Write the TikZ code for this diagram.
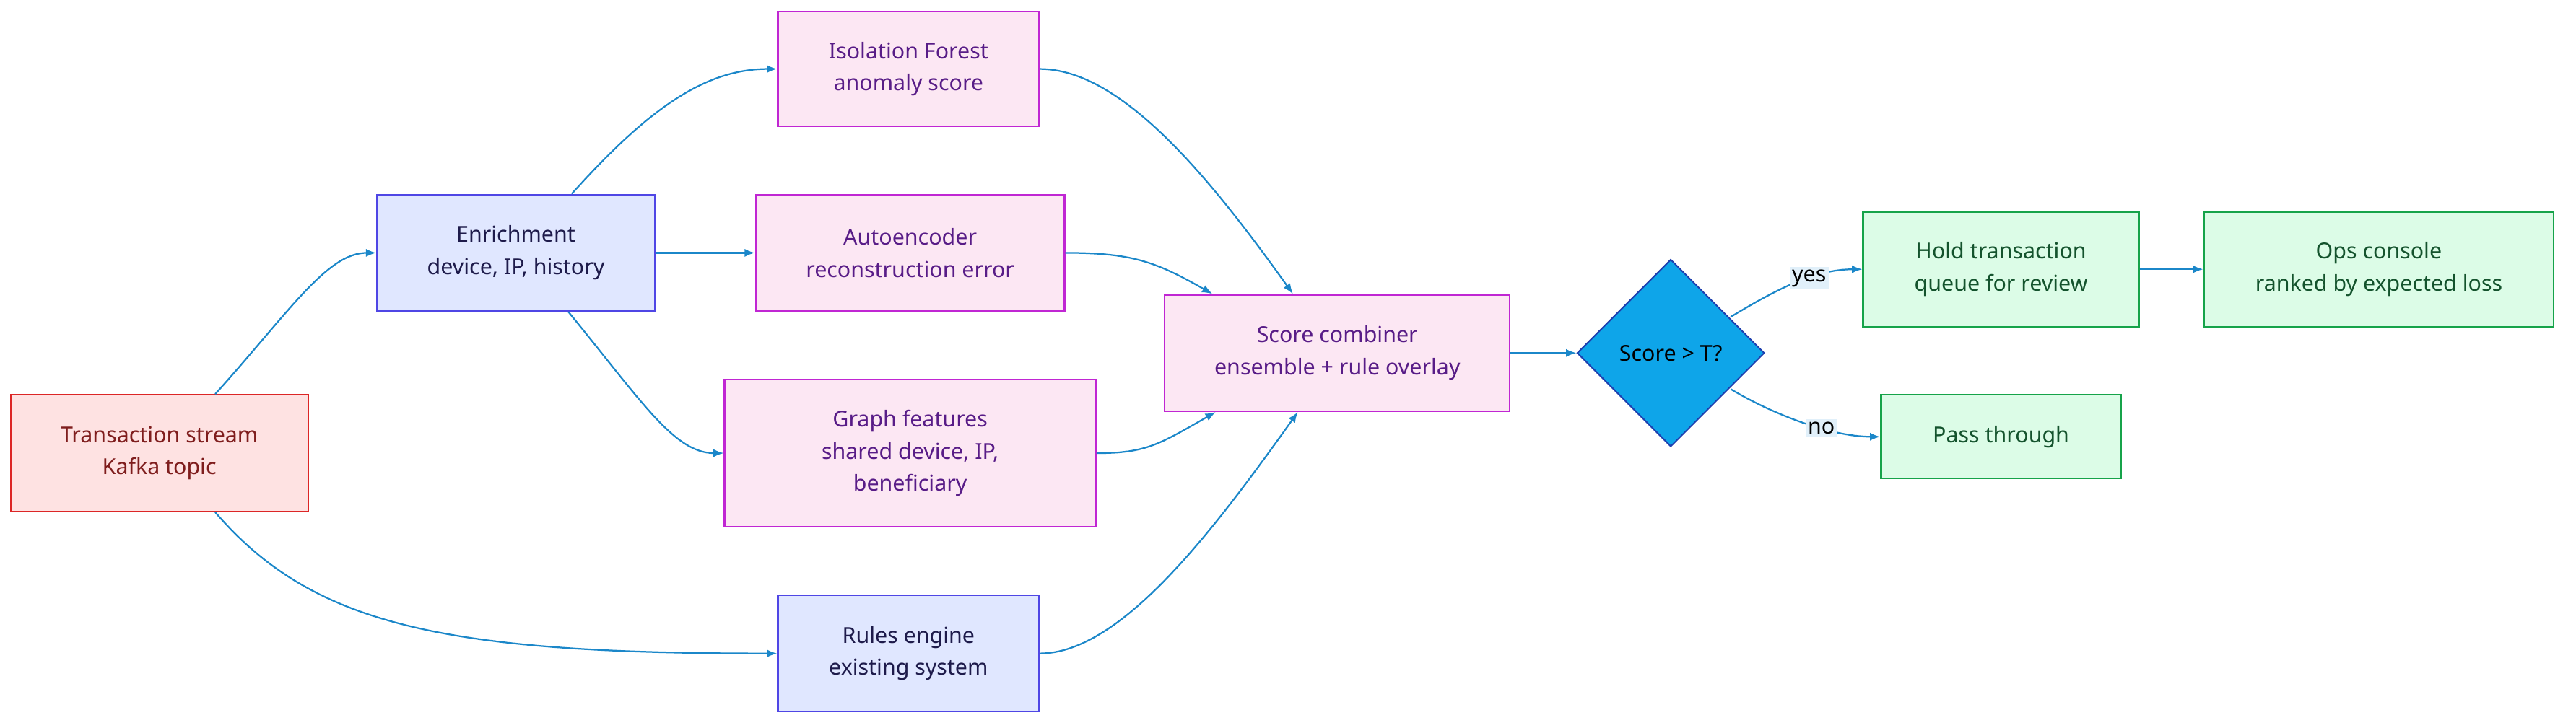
\documentclass[tikz,border=0pt]{standalone}
\usepackage{fontspec}
\setmainfont{Noto Sans}
\usetikzlibrary{shapes.geometric,arrows.meta}
\definecolor{edge}{HTML}{1B87C9}
\definecolor{pinkf}{HTML}{FCE7F3}\definecolor{pinkd}{HTML}{C026D3}\definecolor{pinkt}{HTML}{581C87}
\definecolor{lavf}{HTML}{E0E7FF}\definecolor{lavd}{HTML}{4F46E5}\definecolor{lavt}{HTML}{1E1B4B}
\definecolor{redf}{HTML}{FEE2E2}\definecolor{redd}{HTML}{DC2626}\definecolor{redt}{HTML}{7F1D1D}
\definecolor{grnf}{HTML}{DCFCE7}\definecolor{grnd}{HTML}{16A34A}\definecolor{grnt}{HTML}{14532D}
\definecolor{dia}{HTML}{0EA5E9}\definecolor{diad}{HTML}{1E40AF}
\definecolor{lblf}{HTML}{E1F0FA}
\tikzset{
 base/.style={draw,line width=1.3pt,align=center,inner sep=0pt,font=\fontsize{19}{28}\selectfont},
 pinkbox/.style={base,fill=pinkf,draw=pinkd,text=pinkt},
 lavbox/.style={base,fill=lavf,draw=lavd,text=lavt},
 redbox/.style={base,fill=redf,draw=redd,text=redt},
 grnbox/.style={base,fill=grnf,draw=grnd,text=grnt},
 conn/.style={draw=edge,line width=1.4pt,-{Latex[length=9pt,width=7pt]}},
 lbl/.style={fill=lblf,inner sep=2pt,font=\fontsize{19}{24}\selectfont,text=black}
}
\begin{document}
\begin{tikzpicture}[x=0.05cm,y=-0.05cm]
\useasboundingbox (0,0) rectangle (1568,443);
\node[redbox,minimum width=9.05cm,minimum height=3.55cm] (tx) at (97,276) {Transaction stream\\Kafka topic};
\node[lavbox,minimum width=8.45cm,minimum height=3.55cm] (en) at (314,154) {Enrichment\\device, IP, history};
\node[pinkbox,minimum width=7.95cm,minimum height=3.5cm] (iso) at (553,42) {Isolation Forest\\anomaly score};
\node[pinkbox,minimum width=9.4cm,minimum height=3.55cm] (ae) at (554,154) {Autoencoder\\reconstruction error};
\node[pinkbox,minimum width=11.3cm,minimum height=4.5cm] (gf) at (554,276) {Graph features\\shared device, IP,\\beneficiary};
\node[lavbox,minimum width=7.95cm,minimum height=3.55cm] (ru) at (553,398) {Rules engine\\existing system};
\node[pinkbox,minimum width=10.5cm,minimum height=3.55cm] (sc) at (814,215) {Score combiner\\ensemble + rule overlay};
\node[base,shape=diamond,fill=dia,draw=diad,text=black,minimum width=5.7cm,minimum height=5.7cm] (d) at (1017,215) {Score > T?};
\node[grnbox,minimum width=8.4cm,minimum height=3.5cm] (ho) at (1218,164) {Hold transaction\\queue for review};
\node[grnbox,minimum width=10.65cm,minimum height=3.5cm] (op) at (1448,164) {Ops console\\ranked by expected loss};
\node[grnbox,minimum width=7.3cm,minimum height=2.55cm] (pa) at (1218,266) {Pass through};

\draw[conn] ([xshift=1.7cm]tx.north) .. controls +(45,-50) and +(-30,0) .. (en.west);
\draw[conn] ([xshift=1.7cm]tx.south) .. controls +(60,70) and +(-200,0) .. (ru.west);
\draw[conn] ([xshift=1.7cm]en.north) .. controls +(45,-50) and +(-45,0) .. (iso.west);
\draw[conn] (en.east) -- (ae.west);
\draw[conn] ([xshift=1.6cm]en.south) .. controls +(45,55) and +(-30,0) .. (gf.west);
\draw[conn] (iso.east) .. controls +(50,0) and +(-50,-70) .. ([xshift=-1.35cm]sc.north);
\draw[conn] (ae.east) .. controls +(40,0) and +(-35,-20) .. ([xshift=-3.8cm]sc.north);
\draw[conn] (gf.east) .. controls +(30,0) and +(-35,20) .. ([xshift=-3.7cm]sc.south);
\draw[conn] (ru.east) .. controls +(50,0) and +(-50,70) .. ([xshift=-1.2cm]sc.south);
\draw[conn] (sc.east) -- (d.west);
\draw[conn] ([xshift=-1.05cm,yshift=1.1cm]d.east) .. controls +(25,-15) and +(-30,0) .. node[lbl,pos=0.62] {yes} (ho.west);
\draw[conn] ([xshift=-1.05cm,yshift=-1.1cm]d.east) .. controls +(25,15) and +(-30,0) .. node[lbl,pos=0.62] {no} (pa.west);
\draw[conn] (ho.east) -- (op.west);
\end{tikzpicture}
\end{document}
